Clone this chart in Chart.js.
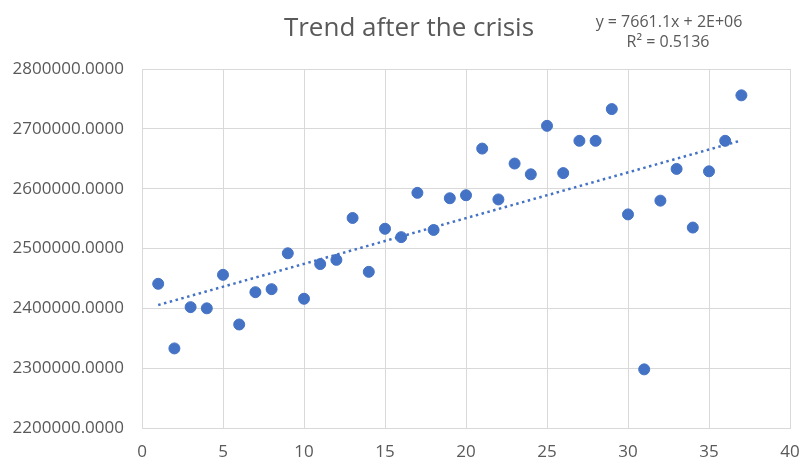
<!DOCTYPE html>
<html>
<head>
<meta charset="utf-8">
<script src="https://cdn.jsdelivr.net/npm/chart.js@4.4.1/dist/chart.umd.min.js"></script>
<style>
  html, body { margin: 0; padding: 0; background: #fff; }
  #wrap { width: 805px; height: 467px; position: relative; }
</style>
</head>
<body>
<div id="wrap"><canvas id="chart"></canvas></div>
<script>
// period index after the crisis
const periods = [1, 2, 3, 4, 5, 6, 7, 8, 9, 10, 11, 12, 13, 14, 15, 16, 17, 18, 19,
    20, 21, 22, 23, 24, 25, 26, 27, 28, 29, 30, 31, 32, 33, 34, 35, 36, 37];
const values = [2441000, 2333000, 2402000, 2400000, 2456000, 2373000, 2427000, 2432000,
    2492000, 2416000, 2474000, 2481000, 2551000, 2461000, 2533000, 2519000, 2593000,
    2531000, 2584000, 2589000, 2667000, 2582000, 2642000, 2624000, 2705000, 2626000,
    2680000, 2680000, 2733000, 2557000, 2298000, 2580000, 2633000, 2535000, 2629000,
    2680000, 2756000];
const chartTitle = 'Trend after the crisis';
const trendLabels = ['y = 7661.1x + 2E+06', 'R\u00b2 = 0.5136'];

const grey = '#595959';
const blue = '#4472C4';
const font = '"Open Sans", "Liberation Sans", sans-serif';

// least squares line through the points (Excel linear trendline)
const n = periods.length;
const mx = periods.reduce((a, b) => a + b, 0) / n;
const my = values.reduce((a, b) => a + b, 0) / n;
let sxy = 0, sxx = 0;
periods.forEach((x, i) => { sxy += (x - mx) * (values[i] - my); sxx += (x - mx) * (x - mx); });
const slope = sxy / sxx;
const intercept = my - slope * mx;
const xFirst = periods[0], xLast = periods[n - 1];

const textPlugin = {
    id: 'texts',
    afterDraw(chart) {
        const ctx = chart.ctx;
        ctx.save();
        ctx.fillStyle = grey;
        ctx.textAlign = 'center';
        ctx.textBaseline = 'alphabetic';
        ctx.font = '26px ' + font;
        ctx.fillText(chartTitle, 409, 36);
        ctx.font = '16px ' + font;
        ctx.fillText(trendLabels[0], 669, 27);
        ctx.fillText(trendLabels[1], 668, 47);
        ctx.restore();
    }
};

new Chart(document.getElementById('chart'), {
    type: 'scatter',
    data: {
        datasets: [{
            label: 'values',
            data: periods.map((x, i) => ({ x: x, y: values[i] })),
            backgroundColor: blue,
            borderColor: blue,
            pointRadius: 5.5,
            pointHoverRadius: 5.5,
            order: 1
        }, {
            label: 'trend',
            type: 'line',
            data: [
                { x: xFirst, y: intercept + slope * xFirst },
                { x: xLast, y: intercept + slope * xLast }
            ],
            borderColor: blue,
            borderWidth: 2.5,
            borderDash: [2.5, 3.5],
            pointRadius: 0,
            fill: false,
            order: 2
        }]
    },
    options: {
        responsive: true,
        maintainAspectRatio: false,
        animation: false,
        layout: { padding: { top: 69, right: 15, bottom: 0, left: 0 } },
        plugins: {
            legend: { display: false },
            tooltip: { enabled: false }
        },
        scales: {
            x: {
                type: 'linear',
                min: 0,
                max: 40,
                ticks: { stepSize: 5, color: grey, font: { family: font, size: 17 }, padding: 14 },
                grid: { color: '#d9d9d9', drawTicks: false },
                border: { color: '#d9d9d9' },
                afterFit(scale) {
                    scale.height = 39;
                    scale.paddingLeft = 0;
                    scale.paddingRight = 0;
                }
            },
            y: {
                min: 2200000,
                max: 2800000,
                ticks: {
                    stepSize: 100000,
                    color: grey,
                    font: { family: font, size: 17 },
                    padding: 18,
                    callback: v => v.toFixed(4)
                },
                grid: { color: '#d9d9d9', drawTicks: false },
                border: { color: '#d9d9d9' },
                afterFit(scale) {
                    scale.width = 142;
                    scale.paddingTop = 0;
                    scale.paddingBottom = 0;
                }
            }
        }
    },
    plugins: [textPlugin]
});
</script>
</body>
</html>
